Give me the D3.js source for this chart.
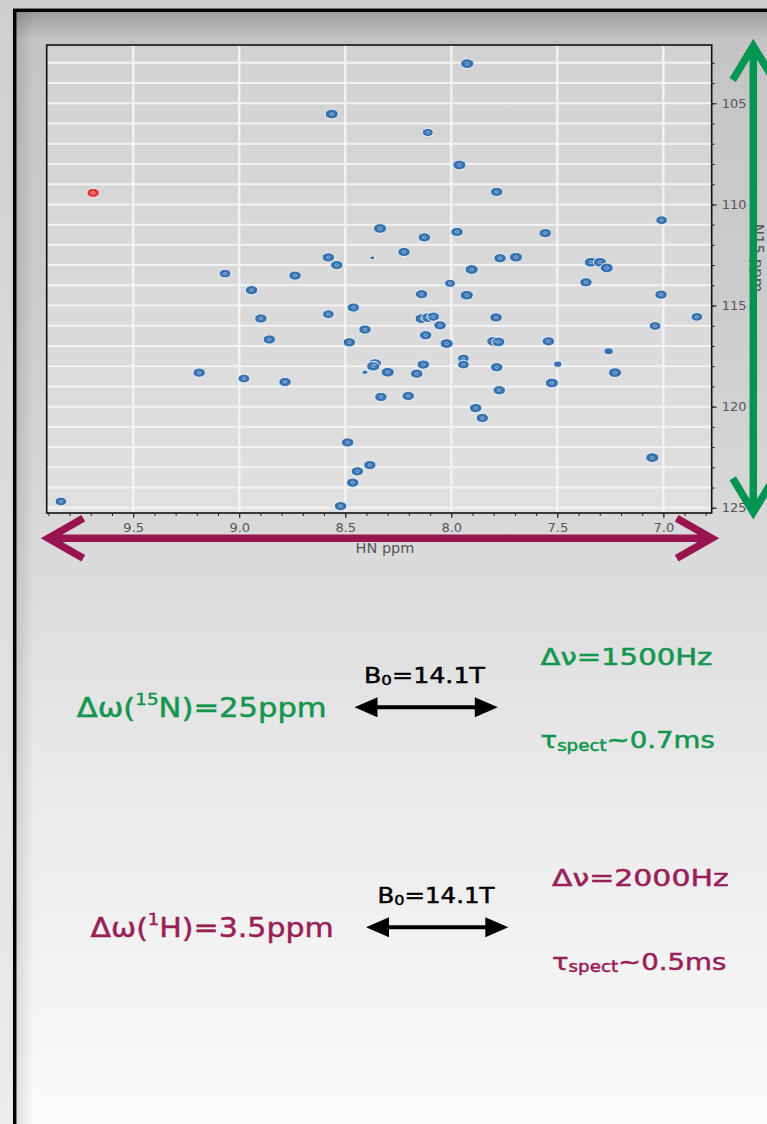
<!DOCTYPE html>
<html>
<head>
<meta charset="utf-8">
<script src="https://cdn.jsdelivr.net/npm/d3@7"></script>
<style>
  html, body { margin: 0; padding: 0; background: #d6d6d6; }
  svg { display: block; }
</style>
</head>
<body>
<svg id="slide"></svg>
<script>
// 1H-15N HSQC peaks (ppm)
var peakHN = [7.925, 8.564, 8.111, 7.962, 7.786, 7.008, 8.336, 7.973, 8.127, 7.557,
              8.223, 8.580, 8.540, 7.770, 7.695, 7.342, 7.299, 7.267, 9.067, 8.737,
              7.904, 8.006, 7.365, 8.942, 8.140, 7.927, 7.011, 8.462, 8.580, 8.898,
              8.140, 8.110, 8.085, 7.789, 6.842, 8.407, 8.053, 7.039, 8.858, 8.481,
              8.121, 8.022, 7.802, 7.778, 7.542, 7.258, 8.360, 8.368, 7.943, 7.943,
              7.498, 8.300, 9.189, 8.978, 8.784, 8.163, 8.132, 7.786, 7.228, 7.526,
              8.332, 8.203, 7.774, 7.885, 7.854, 8.489, 8.384, 8.443, 8.465, 9.841,
              8.522, 7.052, 8.407, 8.372];
var peakN  = [103.04, 105.53, 106.44, 108.05, 109.38, 110.78, 111.19, 111.36, 111.63, 111.42,
              112.35, 112.62, 113.00, 112.66, 112.61, 112.86, 112.86, 113.14, 113.42, 113.52,
              113.22, 113.90, 113.85, 114.24, 114.44, 114.49, 114.46, 115.10, 115.43, 115.64,
              115.65, 115.60, 115.55, 115.59, 115.56, 116.19, 115.98, 116.01, 116.68, 116.82,
              116.47, 116.88, 116.77, 116.80, 116.77, 117.26, 117.87, 118.00, 117.62, 117.92,
              117.90, 118.30, 118.32, 118.61, 118.78, 118.37, 117.92, 118.05, 118.32, 118.83,
              119.52, 119.47, 119.19, 120.07, 120.56, 121.77, 122.89, 123.20, 123.76, 124.69,
              124.92, 122.52, 118.30, 112.64];
var peakIntensity = [1, 1, 0.7, 1, 0.9, 0.8, 1, 0.9, 0.9, 0.9,
                     0.9, 0.9, 0.9, 0.9, 1, 1, 1, 1, 0.8, 0.9,
                     1, 0.7, 0.9, 0.9, 0.9, 1, 0.9, 0.9, 0.8, 0.9,
                     1, 1, 0.9, 0.9, 0.8, 0.9, 0.9, 0.8, 0.9, 0.9,
                     0.9, 1, 1, 1, 0.9, 0.5, 1, 1, 0.8, 0.8,
                     0.4, 1, 0.9, 0.8, 0.9, 0.9, 0.9, 0.9, 1, 1,
                     0.9, 0.9, 0.9, 0.9, 0.9, 0.9, 0.9, 0.9, 0.9, 0.8,
                     0.9, 1, 0.2, 0.15];
// the one folded peak, drawn in red
var foldedHN = [9.689];
var foldedN  = [109.43];

var hnTicks = [9.5, 9.0, 8.5, 8.0, 7.5, 7.0];
var nTicks  = [105, 110, 115, 120, 125];
var hnDomain = [9.908, 6.772];
var nDomain  = [102.117, 125.26];

var W = 767, H = 1124;
var FONT = "'DejaVu Sans', sans-serif";
var GREEN = "#009550", MAGENTA = "#99154f";
var GREEN_TXT = "#12964e", MAGENTA_TXT = "#9a1f58";

var plot = { left: 46.7, right: 711.7, top: 45, bottom: 513 };

var svg = d3.select("#slide").attr("width", W).attr("height", H);
var defs = svg.append("defs");

function vGrad(id, stops, y1, y2) {
  var g = defs.append("linearGradient").attr("id", id)
    .attr("gradientUnits", "userSpaceOnUse")
    .attr("x1", 0).attr("x2", 0).attr("y1", y1).attr("y2", y2);
  stops.forEach(function (s) {
    g.append("stop").attr("offset", s[0]).attr("stop-color", s[1]).attr("stop-opacity", s[2] == null ? 1 : s[2]);
  });
}
vGrad("outside", [[0, "#cfcfcf"], [1, "#ececec"]], 0, H);
vGrad("page", [[0, "#c4c4c4"], [0.27, "#cdcdcd"], [0.5, "#dbdbdb"], [0.71, "#ebebeb"], [0.89, "#f5f5f5"], [1, "#fcfcfc"]], 12, H);
vGrad("topShade", [[0, "#000", 0.2], [1, "#000", 0]], 12, 40);
vGrad("plotBg", [[0, "#d2d2d2"], [1, "#e0e0e0"]], plot.top, plot.bottom);
var ls = defs.append("linearGradient").attr("id", "leftShade").attr("x1", 0).attr("x2", 1).attr("y1", 0).attr("y2", 0);
ls.append("stop").attr("offset", 0).attr("stop-color", "#000").attr("stop-opacity", 0.12);
ls.append("stop").attr("offset", 1).attr("stop-color", "#000").attr("stop-opacity", 0);

// slide background and frame
svg.append("rect").attr("width", W).attr("height", H).attr("fill", "url(#outside)");
svg.append("rect").attr("x", 16).attr("y", 12).attr("width", W).attr("height", H).attr("fill", "url(#page)");
svg.append("rect").attr("x", 16).attr("y", 12).attr("width", W).attr("height", 28).attr("fill", "url(#topShade)");
svg.append("rect").attr("x", 16).attr("y", 12).attr("width", 18).attr("height", H).attr("fill", "url(#leftShade)");
svg.append("rect").attr("x", 14.7).attr("y", 10.3).attr("width", W + 20).attr("height", H + 20)
  .attr("fill", "none").attr("stroke", "#000").attr("stroke-width", 3.5);

// spectrum
var x = d3.scaleLinear().domain(hnDomain).range([plot.left, plot.right]);
var y = d3.scaleLinear().domain(nDomain).range([plot.top, plot.bottom]);
var rScale = d3.scaleSqrt().domain([0, 1]).range([0, 6.6]);

var chart = svg.append("g");
chart.append("rect").attr("x", plot.left).attr("y", plot.top)
  .attr("width", plot.right - plot.left).attr("height", plot.bottom - plot.top)
  .attr("fill", "url(#plotBg)");

var nGrid = d3.range(Math.ceil(nDomain[0]), Math.floor(nDomain[1]) + 1);
chart.append("g").selectAll("line").data(nGrid).join("line")
  .attr("x1", plot.left).attr("x2", plot.right)
  .attr("y1", function (d) { return y(d); }).attr("y2", function (d) { return y(d); })
  .attr("stroke", "#f3f3f3").attr("stroke-width", 2);
chart.append("g").selectAll("line").data(hnTicks).join("line")
  .attr("x1", function (d) { return x(d); }).attr("x2", function (d) { return x(d); })
  .attr("y1", plot.top).attr("y2", plot.bottom)
  .attr("stroke", "#f3f3f3").attr("stroke-width", 2.4);

var peaks = peakHN.map(function (h, i) { return { h: h, n: peakN[i], v: peakIntensity[i] }; });
var folded = foldedHN.map(function (h, i) { return { h: h, n: foldedN[i], v: 0.9 }; });

function drawPeaks(data, fill, ring) {
  var g = chart.append("g");
  g.selectAll("ellipse.outer").data(data).join("ellipse").attr("class", "outer")
    .attr("cx", function (d) { return x(d.h); }).attr("cy", function (d) { return y(d.n); })
    .attr("rx", function (d) { return rScale(d.v); }).attr("ry", function (d) { return rScale(d.v) * 0.74; })
    .attr("fill", fill).attr("stroke", "#eef2f6").attr("stroke-width", 1);
  g.selectAll("ellipse.inner").data(data.filter(function (d) { return d.v > 0.5; })).join("ellipse").attr("class", "inner")
    .attr("cx", function (d) { return x(d.h); }).attr("cy", function (d) { return y(d.n); })
    .attr("rx", function (d) { return rScale(d.v) * 0.28; }).attr("ry", function (d) { return rScale(d.v) * 0.2; })
    .attr("fill", "none").attr("stroke", ring).attr("stroke-width", 0.9);
}
drawPeaks(peaks, "#3772b0", "#9fbbd8");
drawPeaks(folded, "#e03a3c", "#f3b0b0");

chart.append("rect").attr("x", plot.left).attr("y", plot.top)
  .attr("width", plot.right - plot.left).attr("height", plot.bottom - plot.top)
  .attr("fill", "none").attr("stroke", "#111").attr("stroke-width", 1.6);

// axes
var hnMinor = d3.range(68, 100).map(function (d) { return d / 10; });
var nMinor = nGrid;
chart.append("g").attr("transform", "translate(0," + plot.bottom + ")")
  .call(d3.axisBottom(x).tickValues(hnMinor).tickSize(3).tickFormat(""))
  .call(function (g) { g.select(".domain").remove(); });
chart.append("g").attr("transform", "translate(0," + plot.bottom + ")")
  .call(d3.axisBottom(x).tickValues(hnTicks).tickSize(5).tickPadding(5).tickFormat(d3.format(".1f")))
  .call(function (g) { g.select(".domain").remove(); });
chart.append("g").attr("transform", "translate(" + plot.right + ",0)")
  .call(d3.axisRight(y).tickValues(nMinor).tickSize(3).tickFormat(""))
  .call(function (g) { g.select(".domain").remove(); });
chart.append("g").attr("transform", "translate(" + plot.right + ",0)")
  .call(d3.axisRight(y).tickValues(nTicks).tickSize(5).tickPadding(5))
  .call(function (g) { g.select(".domain").remove(); });
chart.selectAll(".tick line").attr("stroke", "#222");
chart.selectAll(".tick text").attr("font-family", FONT).attr("font-size", 13).attr("fill", "#555");

chart.append("text").text("HN ppm").attr("x", 385).attr("y", 553)
  .attr("text-anchor", "middle").attr("font-family", FONT).attr("font-size", 14.5).attr("fill", "#555");
chart.append("text").text("N15 ppm")
  .attr("transform", "translate(752,258) rotate(90)")
  .attr("text-anchor", "middle").attr("font-family", FONT).attr("font-size", 15).attr("fill", "#555");

// big range arrows
function rangeArrow(x1, y1, x2, y2, color, head, spread) {
  var g = svg.append("g").attr("stroke", color).attr("stroke-width", 7.5).attr("fill", "none")
    .attr("stroke-linejoin", "miter");
  g.append("line").attr("x1", x1).attr("y1", y1).attr("x2", x2).attr("y2", y2);
  var len = Math.hypot(x2 - x1, y2 - y1), ux = (x2 - x1) / len, uy = (y2 - y1) / len;
  [[x1, y1, 1], [x2, y2, -1]].forEach(function (p) {
    var bx = p[0] + ux * head * p[2], by = p[1] + uy * head * p[2];
    g.append("path").attr("d", d3.line()([
      [bx - uy * spread, by + ux * spread], [p[0], p[1]], [bx + uy * spread, by - ux * spread]
    ]));
  });
}
rangeArrow(753.3, y.range()[0] + 1, 753.3, y.range()[1] - 0.7, GREEN, 34, 20.6);
rangeArrow(x.range()[0] + 1.6, 538.3, x.range()[1], 538.3, MAGENTA, 35, 20);

// small double-headed black arrows
function bArrow(x1, x2, yy) {
  var g = svg.append("g");
  g.append("line").attr("x1", x1 + 10).attr("x2", x2 - 10).attr("y1", yy).attr("y2", yy)
    .attr("stroke", "#000").attr("stroke-width", 4);
  g.append("path").attr("d", d3.line()([[x1, yy], [x1 + 23, yy - 10], [x1 + 23, yy + 10]]) + "Z").attr("fill", "#000");
  g.append("path").attr("d", d3.line()([[x2, yy], [x2 - 23, yy - 10], [x2 - 23, yy + 10]]) + "Z").attr("fill", "#000");
}
bArrow(354.5, 497.8, 707.3);
bArrow(366, 508.3, 927.3);

// rich text, stretched to the measured width
function richText(parts, x0, base, width, size, color) {
  var g = svg.append("g");
  var t = g.append("text").attr("font-family", FONT).attr("font-size", size).attr("fill", color)
    .attr("stroke", color).attr("stroke-width", 0.5);
  var shift = 0;
  parts.forEach(function (p) {
    var target = 0, fs = size;
    if (p[1] === "sup") { target = -size * 0.42; fs = size * 0.6; }
    if (p[1] === "sub") { target = size * 0.1; fs = size * 0.66; }
    t.append("tspan").text(p[0]).attr("font-size", fs).attr("dy", target - shift);
    shift = target;
  });
  var sx = width / t.node().getComputedTextLength();
  g.attr("transform", "translate(" + x0 + "," + base + ") scale(" + sx + ",1)");
}

richText([["Δω("], ["15", "sup"], ["N)=25ppm"]], 76.7, 716.7, 250, 27, GREEN_TXT);
richText([["B"], ["0", "sub"], ["=14.1T"]], 364, 683, 121, 21.5, "#000");
richText([["Δν=1500Hz"]], 540.5, 665, 172, 23, GREEN_TXT);
richText([["τ"], ["spect", "sub"], ["~0.7ms"]], 540.5, 748.3, 174.5, 23, GREEN_TXT);

richText([["Δω("], ["1", "sup"], ["H)=3.5ppm"]], 90.5, 936.7, 243.3, 27, MAGENTA_TXT);
richText([["B"], ["0", "sub"], ["=14.1T"]], 377.5, 903.3, 117, 21.5, "#000");
richText([["Δν=2000Hz"]], 552, 885.7, 176.7, 23, MAGENTA_TXT);
richText([["τ"], ["spect", "sub"], ["~0.5ms"]], 552, 970, 174.4, 23, MAGENTA_TXT);
</script>
</body>
</html>
